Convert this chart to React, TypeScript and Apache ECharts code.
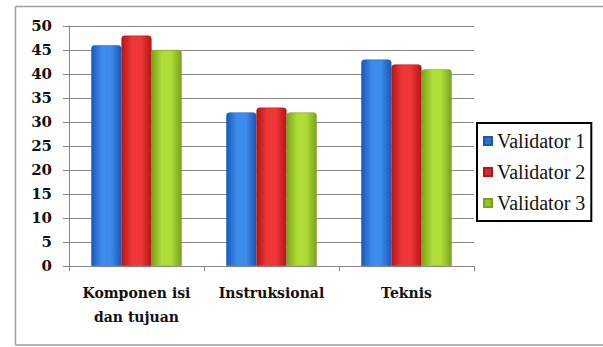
import React, { useEffect, useRef } from "react";
import * as echarts from "echarts";

const categories = ["Komponen isi\ndan tujuan", "Instruksional", "Teknis"];
const seriesNames = ["Validator 1", "Validator 2", "Validator 3"];
const validator1 = [46, 32, 43];
const validator2 = [48, 33, 42];
const validator3 = [45, 32, 41];
const yTicks = { min: 0, max: 50, interval: 5 };

const grad = (dark: string, light: string) =>
  new echarts.graphic.LinearGradient(0, 0, 1, 0, [
    { offset: 0, color: dark },
    { offset: 0.35, color: light },
    { offset: 0.65, color: light },
    { offset: 1, color: dark },
  ]);

export default function App() {
  const ref = useRef<HTMLDivElement>(null);
  useEffect(() => {
    if (!ref.current) return;
    const chart = echarts.init(ref.current, undefined, { renderer: "svg" });
    const colors = [
      { dark: "#1a58b8", light: "#3d8ceb", legend: "#2e6fc8" },
      { dark: "#b51616", light: "#ef3636", legend: "#c83030" },
      { dark: "#7aa31a", light: "#b0dc38", legend: "#9ac030" },
    ];
    const data = [validator1, validator2, validator3];
    const legendText = {
      fontFamily: "'Liberation Serif', 'Times New Roman', serif",
      fontSize: 20,
      color: "#111",
    };
    chart.setOption({
      animation: false,
      textStyle: { fontFamily: "'Liberation Serif', serif" },
      graphic: [
        {
          type: "line",
          shape: { x1: 15.5, y1: 6.5, x2: 603, y2: 6.5 },
          style: { stroke: "#a0a0a0", lineWidth: 1.5 },
          silent: true,
        },
        {
          type: "line",
          shape: { x1: 15.5, y1: 6.5, x2: 15.5, y2: 345 },
          style: { stroke: "#a0a0a0", lineWidth: 1.5 },
          silent: true,
        },
        {
          type: "line",
          shape: { x1: 15.5, y1: 345, x2: 603, y2: 345 },
          style: { stroke: "#a0a0a0", lineWidth: 1.5 },
          silent: true,
        },
      ],
      grid: { left: 69, right: 129, top: 26, bottom: 81 },
      legend: {
        orient: "vertical",
        left: 477,
        top: 123,
        itemWidth: 8,
        itemHeight: 8,
        itemGap: 11,
        icon: "rect",
        padding: [8, 6, 8, 6],
        borderColor: "#000",
        borderWidth: 2,
        textStyle: legendText,
        data: seriesNames.map((n, i) => ({
          name: n,
          itemStyle: { color: colors[i].legend },
          textStyle: legendText,
        })),
      },
      xAxis: {
        type: "category",
        data: categories,
        axisLine: { lineStyle: { color: "#888", width: 1 } },
        axisTick: { show: true, length: 5, lineStyle: { color: "#888" } },
        axisLabel: {
          fontFamily: "DejaVu Serif",
          fontWeight: "bold",
          fontSize: 14,
          color: "#111",
          lineHeight: 24,
          margin: 15,
          interval: 0,
        },
      },
      yAxis: {
        type: "value",
        min: yTicks.min,
        max: yTicks.max,
        interval: yTicks.interval,
        axisLine: { show: true, lineStyle: { color: "#888" } },
        axisTick: { show: true, length: 6, lineStyle: { color: "#888" } },
        splitLine: { lineStyle: { color: "#8a8a8a", width: 1 } },
        axisLabel: {
          fontFamily: "DejaVu Serif",
          fontWeight: "bold",
          fontSize: 15,
          color: "#111",
          margin: 17,
        },
      },
      series: seriesNames.map((name, i) => ({
        name,
        type: "bar",
        data: data[i],
        barGap: "0%",
        barCategoryGap: "33%",
        itemStyle: {
          color: grad(colors[i].dark, colors[i].light),
          borderColor: colors[i].dark,
          borderWidth: 0.5,
          borderRadius: [3, 3, 0, 0],
        },
      })),
    });
    return () => chart.dispose();
  }, []);
  return (
    <div
      ref={ref}
      style={{ position: "absolute", left: 0, top: 0, width: 603, height: 347 }}
    />
  );
}
